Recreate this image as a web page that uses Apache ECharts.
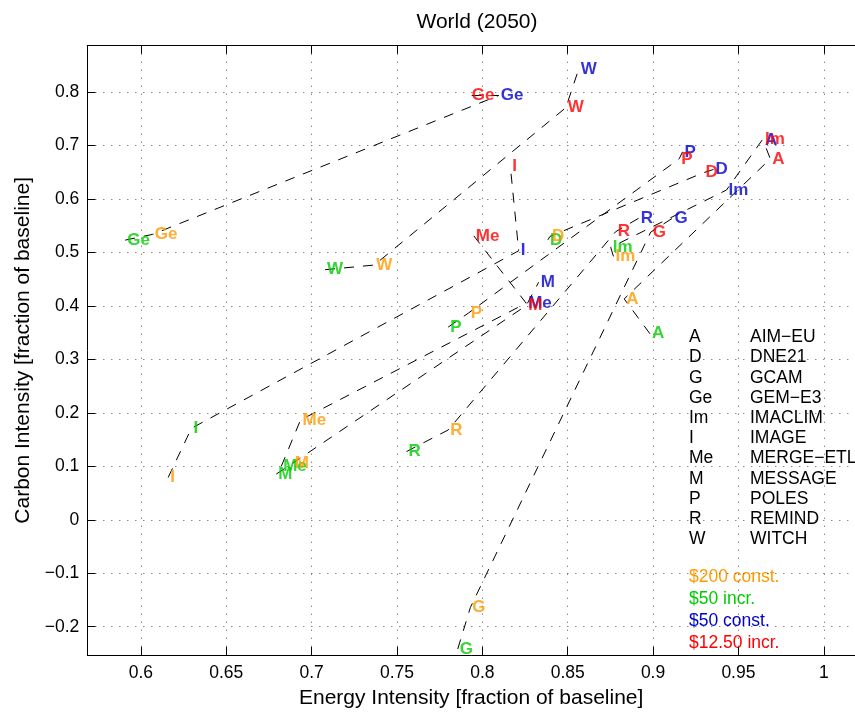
<!DOCTYPE html>
<html><head><meta charset="utf-8">
<script src="https://cdn.jsdelivr.net/npm/echarts@6/dist/echarts.min.js"></script>
<style>html,body{margin:0;padding:0;background:#fff}#c{width:855px;height:714px}</style>
</head><body><div id="c"></div>
<script>
// ---- data ----
const models = ['A','D','G','Ge','Im','I','Me','M','P','R','W'];
const modelNames = ['AIM\u2212EU','DNE21','GCAM','GEM\u2212E3','IMACLIM','IMAGE','MERGE\u2212ETL','MESSAGE','POLES','REMIND','WITCH'];
const scenarios = ['$200 const.','$50 incr.','$50 const.','$12.50 incr.'];
const scenarioColors = ['#ff9900','#00cc00','#0000cc','#ff0000'];
// energy / carbon intensity (fraction of baseline) per model, per scenario
const energy200const = [0.8831,0.8396,0.7930,0.6070,0.8768,0.6160,0.6935,0.6890,0.7920,0.7800,0.7367];
const carbon200const = [0.4132,0.5300,-0.1640,0.5340,0.4927,0.0793,0.1866,0.1060,0.3870,0.1680,0.4765];
const energy50incr   = [0.8982,0.8384,0.7856,0.5908,0.8752,0.6296,0.6822,0.6793,0.7800,0.7556,0.7079];
const carbon50incr   = [0.3480,0.5237,-0.2417,0.5231,0.5095,0.1711,0.0998,0.0855,0.3605,0.1277,0.4678];
const energy50const  = [0.9644,0.9354,0.9114,0.8096,0.9430,0.8213,0.8257,0.8330,0.9173,0.8916,0.8565];
const carbon50const  = [0.7099,0.6553,0.5641,0.7937,0.6168,0.5032,0.4052,0.4443,0.6883,0.5641,0.8434];
const energy1250incr = [0.9687,0.9295,0.8986,0.7926,0.9644,0.8164,0.7950,0.8257,0.9153,0.8781,0.8489];
const carbon1250incr = [0.6752,0.6492,0.5380,0.7937,0.7125,0.6615,0.5311,0.4007,0.6752,0.5389,0.7708];
const xTicks = [0.6,0.65,0.7,0.75,0.8,0.85,0.9,0.95,1];
const yTicks = [-0.2,-0.1,0,0.1,0.2,0.3,0.4,0.5,0.6,0.7,0.8];

// ---- chart ----
const FONT = '"Liberation Sans", Arial, Helvetica, sans-serif';
const energy = [energy200const, energy50incr, energy50const, energy1250incr];
const carbon = [carbon200const, carbon50incr, carbon50const, carbon1250incr];

const series = [];
// connecting dashed lines: each model's four scenario points, ordered by carbon intensity
models.forEach((m, i) => {
  const pts = [0,1,2,3].map(s => [energy[s][i], carbon[s][i]]).sort((a,b) => a[1]-b[1]);
  series.push({
    type: 'line', data: pts, symbol: 'none', silent: true, z: 2,
    lineStyle: { color: '#000', width: 1, type: [10, 9] }, animation: false
  });
});
// text labels per scenario (draw order: green, blue, red, orange)
[1,2,3,0].forEach(s => {
  series.push({
    type: 'scatter', z: 5, symbolSize: 1, animation: false, silent: true,
    itemStyle: { color: 'rgba(0,0,0,0)' },
    data: models.map((m, i) => ({ name: m, value: [energy[s][i], carbon[s][i]] })),
    label: {
      show: true, position: 'right', distance: 1.5, offset: [0, 1.5], formatter: '{b}',
      color: scenarioColors[s], fontFamily: FONT, fontSize: 17, fontWeight: 'bold'
    },
    labelLayout: { hideOverlap: false }
  });
});

const fmt = v => {
  let s = String(Math.round(v*100)/100);
  return s.replace('-', '\u2212');
};
const gridLine = { show: true, lineStyle: { color: '#555', width: 1, type: [1, 7] } };
const axisCommon = {
  type: 'value',
  axisLine: { show: true, onZero: false, lineStyle: { color: '#000', width: 1 } },
  axisTick: { show: true, inside: true, length: 8, lineStyle: { color: '#000' } },
};

// legend graphics
const graphic = [];
const legendTop = 338.3, legendStep = 20.22;
models.forEach((m, i) => {
  graphic.push({ type: 'text', left: 689, top: legendTop + i*legendStep - 10, silent: true,
    style: { text: m, fill: '#000', font: '17.5px ' + FONT } });
  graphic.push({ type: 'text', left: 750, top: legendTop + i*legendStep - 10, silent: true,
    style: { text: modelNames[i], fill: '#000', font: '17.5px ' + FONT } });
});
const scenTop = 577.7, scenStep = 22.2;
scenarios.forEach((s, i) => {
  graphic.push({ type: 'text', left: 689, top: scenTop + i*scenStep - 10, silent: true,
    style: { text: s, fill: scenarioColors[i], font: '17.5px ' + FONT } });
});

const option = {
  backgroundColor: '#fff',
  animation: false,
  title: { text: 'World (2050)', left: 472, top: 7, textAlign: 'center',
    textStyle: { fontFamily: FONT, fontSize: 21, fontWeight: 'normal', color: '#000' } },
  grid: { left: 87.3, top: 45.7, right: -2, bottom: 56.3, containLabel: false },
  xAxis: [
    Object.assign({}, axisCommon, {
      min: 0.56862, max: 1.01829, position: 'bottom',
      axisTick: Object.assign({}, axisCommon.axisTick, { customValues: xTicks }),
      axisLabel: { customValues: xTicks, formatter: fmt, color: '#000', fontFamily: FONT, fontSize: 17.5, margin: 9 },
      splitLine: gridLine,
      name: 'Energy Intensity [fraction of baseline]', nameLocation: 'middle', nameGap: 33,
      nameTextStyle: { fontFamily: FONT, fontSize: 21, color: '#000' }
    }),
    Object.assign({}, axisCommon, {
      min: 0.56862, max: 1.01829, position: 'top',
      axisTick: Object.assign({}, axisCommon.axisTick, { customValues: xTicks }),
      axisLabel: { show: false }, splitLine: { show: false }
    })
  ],
  yAxis: [
    Object.assign({}, axisCommon, {
      min: -0.2529, max: 0.8868, position: 'left',
      axisTick: Object.assign({}, axisCommon.axisTick, { customValues: yTicks }),
      axisLabel: { customValues: yTicks, formatter: fmt, color: '#000', fontFamily: FONT, fontSize: 17.5, margin: 8 },
      splitLine: gridLine,
      name: 'Carbon Intensity [fraction of baseline]', nameLocation: 'middle', nameGap: 54,
      nameTextStyle: { fontFamily: FONT, fontSize: 21, color: '#000' }
    })
  ],
  series: series,
  graphic: graphic
};
const chart = echarts.init(document.getElementById('c'), null, { renderer: 'canvas' });
chart.setOption(option);
</script>
</body></html>
